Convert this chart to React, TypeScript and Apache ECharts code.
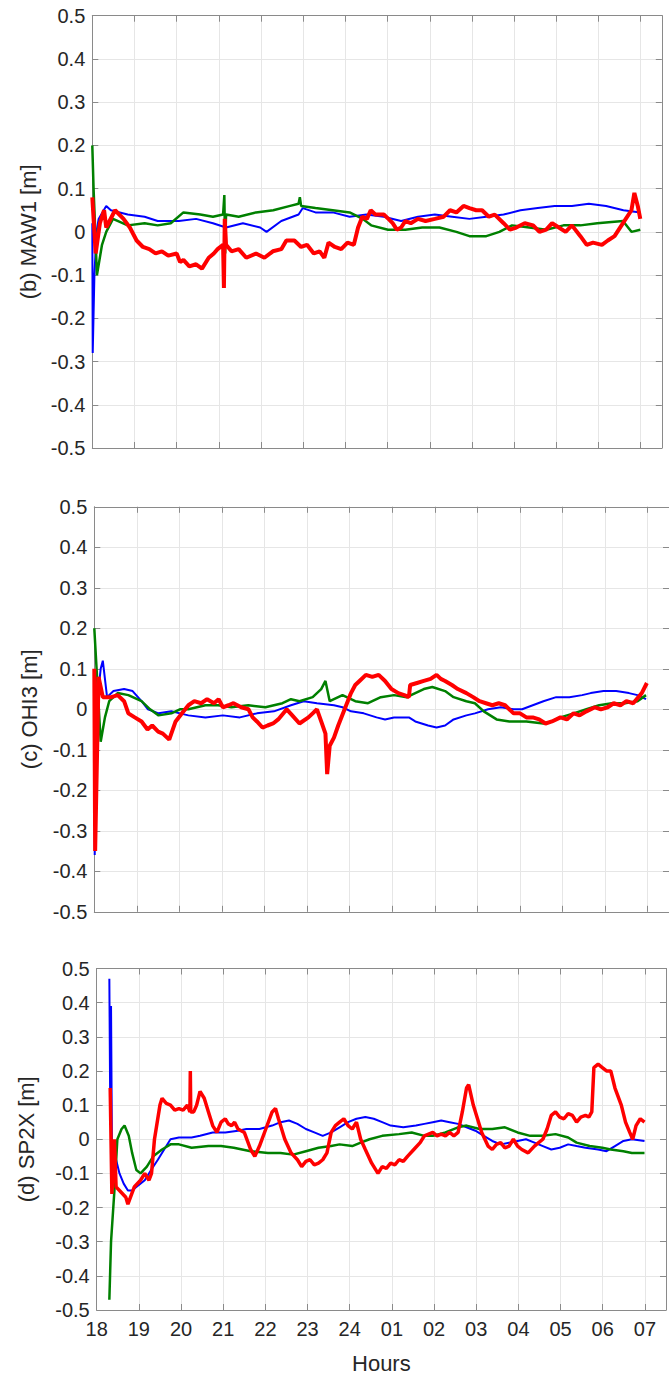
import React, { useEffect, useRef } from "react";
import * as echarts from "echarts";

// x = hours elapsed since 18:00
const hourLabels = ["18", "19", "20", "21", "22", "23", "24", "01", "02", "03", "04", "05", "06", "07"];
const panelNames = ["(b) MAW1 [m]", "(c) OHI3 [m]", "(d) SP2X [m]"];

const maw1Blue: [number, number][] = [
  [0.0, 0.02], [0.01, -0.28], [0.05, -0.1], [0.1, 0.0], [0.15, 0.03], [0.33, 0.06], [0.44, 0.05], [0.84, 0.04],
  [1.24, 0.035], [1.55, 0.025], [2.05, 0.025], [2.46, 0.03], [2.86, 0.02], [3.17, 0.01], [3.57, 0.02], [3.98, 0.01],
  [4.13, 0.0], [4.48, 0.025], [4.89, 0.04], [4.99, 0.055], [5.29, 0.045], [5.7, 0.045], [6.1, 0.035], [6.5, 0.04],
  [6.91, 0.035], [7.32, 0.025], [7.72, 0.035], [8.12, 0.04], [8.53, 0.035], [8.94, 0.03], [9.34, 0.035], [9.75, 0.04],
  [10.15, 0.05], [10.56, 0.055], [10.96, 0.06], [11.37, 0.06], [11.77, 0.065], [12.18, 0.06], [12.59, 0.05], [12.99, 0.045],
];
const maw1Green: [number, number][] = [
  [0.0, 0.2], [0.03, 0.1], [0.11, -0.1], [0.23, -0.03], [0.33, 0.0], [0.49, 0.03], [0.84, 0.015], [1.24, 0.02],
  [1.55, 0.015], [1.86, 0.02], [2.16, 0.045], [2.56, 0.04], [2.86, 0.035], [3.1, 0.04], [3.13, 0.085], [3.15, -0.05],
  [3.17, 0.04], [3.47, 0.035], [3.88, 0.045], [4.29, 0.05], [4.69, 0.06], [4.89, 0.065], [4.92, 0.08], [4.95, 0.06],
  [5.29, 0.055], [5.7, 0.05], [6.1, 0.045], [6.41, 0.03], [6.61, 0.015], [7.01, 0.005], [7.42, 0.005], [7.82, 0.01],
  [8.23, 0.01], [8.63, 0.0], [8.94, -0.01], [9.34, -0.01], [9.65, 0.0], [9.95, 0.015], [10.36, 0.01], [10.76, 0.005],
  [11.17, 0.015], [11.57, 0.015], [11.97, 0.02], [12.58, 0.025], [12.78, 0.0], [12.99, 0.005],
];
const maw1Red: [number, number][] = [
  [0.0, 0.08], [0.08, -0.05], [0.18, 0.02], [0.28, 0.05], [0.33, 0.01], [0.54, 0.05], [0.74, 0.03], [0.89, 0.01],
  [1.05, -0.02], [1.2, -0.035], [1.35, -0.04], [1.5, -0.05], [1.65, -0.045], [1.8, -0.055], [2.0, -0.05], [2.08, -0.07],
  [2.16, -0.065], [2.3, -0.08], [2.46, -0.075], [2.6, -0.085], [2.76, -0.06], [2.88, -0.05], [2.97, -0.04],
  [3.1, -0.03], [3.12, -0.13], [3.14, 0.03], [3.17, -0.03], [3.3, -0.045], [3.47, -0.04], [3.65, -0.06], [3.88, -0.05],
  [4.08, -0.06], [4.28, -0.045], [4.48, -0.04], [4.6, -0.02], [4.79, -0.02], [4.95, -0.035], [5.09, -0.03], [5.25, -0.05],
  [5.39, -0.045], [5.5, -0.06], [5.6, -0.025], [5.75, -0.035], [5.9, -0.04], [6.05, -0.025], [6.2, -0.03], [6.3, 0.01],
  [6.4, 0.035], [6.51, 0.03], [6.6, 0.05], [6.71, 0.04], [6.91, 0.04], [7.02, 0.03], [7.12, 0.02], [7.22, 0.005],
  [7.32, 0.01], [7.42, 0.025], [7.55, 0.02], [7.72, 0.03], [7.9, 0.025], [8.12, 0.03], [8.33, 0.035], [8.48, 0.05],
  [8.63, 0.045], [8.8, 0.06], [8.94, 0.055], [9.1, 0.05], [9.24, 0.05], [9.4, 0.035], [9.54, 0.04], [9.75, 0.02],
  [9.9, 0.005], [10.05, 0.01], [10.25, 0.02], [10.45, 0.015], [10.6, 0.0], [10.76, 0.005], [10.9, 0.02], [11.06, 0.01],
  [11.22, 0.0], [11.37, 0.015], [11.57, -0.01], [11.72, -0.03], [11.87, -0.025], [12.08, -0.03], [12.22, -0.02],
  [12.38, -0.01], [12.58, 0.02], [12.78, 0.05], [12.85, 0.09], [12.93, 0.06], [12.99, 0.03],
];

const ohi3Blue: [number, number][] = [
  [0.0, 0.0], [0.01, -0.36], [0.05, 0.0], [0.15, 0.1], [0.2, 0.12], [0.3, 0.03], [0.45, 0.045], [0.7, 0.05],
  [0.9, 0.045], [1.11, 0.02], [1.26, 0.0], [1.51, -0.01], [1.81, -0.005], [2.01, -0.01], [2.21, -0.015], [2.61, -0.02],
  [3.02, -0.015], [3.42, -0.02], [3.82, -0.01], [4.22, -0.005], [4.62, 0.01], [4.92, 0.02], [5.23, 0.015], [5.63, 0.01],
  [5.83, 0.005], [6.03, -0.005], [6.33, -0.01], [6.63, -0.02], [6.83, -0.025], [7.04, -0.02], [7.39, -0.02], [7.54, -0.03],
  [7.84, -0.04], [8.04, -0.045], [8.24, -0.04], [8.44, -0.025], [8.74, -0.015], [8.94, -0.01], [9.25, 0.0], [9.55, 0.005],
  [9.85, 0.0], [10.05, 0.0], [10.3, 0.01], [10.55, 0.02], [10.85, 0.03], [11.16, 0.03], [11.46, 0.035], [11.66, 0.04],
  [11.96, 0.045], [12.26, 0.045], [12.56, 0.04], [12.76, 0.035], [12.96, 0.025],
];
const ohi3Green: [number, number][] = [
  [0.0, 0.2], [0.15, -0.08], [0.25, -0.02], [0.35, 0.02], [0.55, 0.04], [0.8, 0.035], [1.11, 0.02], [1.31, 0.0],
  [1.51, -0.015], [1.81, -0.01], [2.01, 0.0], [2.21, 0.0], [2.61, 0.01], [2.91, 0.01], [3.22, 0.005], [3.62, 0.01],
  [4.02, 0.005], [4.42, 0.015], [4.62, 0.025], [4.82, 0.02], [5.13, 0.03], [5.33, 0.05], [5.43, 0.07], [5.53, 0.02],
  [5.83, 0.035], [6.13, 0.02], [6.43, 0.015], [6.73, 0.03], [7.04, 0.035], [7.34, 0.03], [7.54, 0.04], [7.74, 0.05],
  [7.94, 0.055], [8.24, 0.045], [8.44, 0.03], [8.74, 0.02], [8.94, 0.015], [9.15, -0.005], [9.45, -0.025], [9.75, -0.03],
  [10.15, -0.03], [10.55, -0.035], [10.75, -0.03], [10.95, -0.02], [11.26, -0.01], [11.56, 0.0], [11.86, 0.01],
  [12.16, 0.015], [12.46, 0.015], [12.76, 0.02], [12.96, 0.035],
];
const ohi3Red: [number, number][] = [
  [0.0, 0.1], [0.02, -0.35], [0.1, 0.08], [0.2, 0.03], [0.4, 0.03], [0.55, 0.035], [0.7, 0.02], [0.8, -0.01],
  [0.95, -0.02], [1.11, -0.03], [1.25, -0.05], [1.36, -0.04], [1.5, -0.055], [1.61, -0.06], [1.76, -0.075], [1.91, -0.03],
  [2.06, -0.01], [2.21, 0.01], [2.35, 0.02], [2.51, 0.015], [2.65, 0.025], [2.81, 0.015], [2.92, 0.025], [3.02, 0.005],
  [3.15, 0.01], [3.27, 0.015], [3.45, 0.005], [3.62, 0.0], [3.72, -0.02], [3.82, -0.03], [3.95, -0.045], [4.07, -0.04],
  [4.2, -0.035], [4.32, -0.025], [4.52, 0.0], [4.65, -0.015], [4.82, -0.035], [5.03, -0.02], [5.13, -0.01], [5.23, 0.0],
  [5.33, -0.03], [5.43, -0.06], [5.47, -0.16], [5.53, -0.09], [5.63, -0.07], [5.73, -0.04], [5.88, 0.0], [6.03, 0.04],
  [6.13, 0.06], [6.23, 0.07], [6.38, 0.085], [6.53, 0.08], [6.68, 0.085], [6.83, 0.07], [6.98, 0.05], [7.14, 0.04],
  [7.28, 0.035], [7.39, 0.03], [7.42, 0.06], [7.58, 0.065], [7.74, 0.07], [7.9, 0.075], [8.04, 0.085], [8.14, 0.075],
  [8.24, 0.07], [8.4, 0.06], [8.54, 0.05], [8.74, 0.04], [8.9, 0.03], [9.05, 0.02], [9.2, 0.015], [9.35, 0.01],
  [9.5, 0.015], [9.65, 0.01], [9.85, -0.01], [10.0, -0.01], [10.15, -0.02], [10.3, -0.02], [10.45, -0.025],
  [10.6, -0.035], [10.75, -0.03], [10.95, -0.02], [11.1, -0.025], [11.26, -0.01], [11.4, -0.015], [11.56, -0.005],
  [11.76, 0.005], [11.9, 0.0], [12.06, 0.005], [12.2, 0.015], [12.36, 0.01], [12.5, 0.02], [12.66, 0.015], [12.86, 0.04],
  [12.98, 0.065],
];

const sp2xBlue: [number, number][] = [
  [0.3, 0.47], [0.32, 0.1], [0.34, 0.39], [0.36, 0.0], [0.44, -0.05], [0.54, -0.1], [0.64, -0.13], [0.74, -0.15],
  [0.84, -0.15], [0.94, -0.14], [1.14, -0.12], [1.29, -0.09], [1.45, -0.06], [1.6, -0.03], [1.75, 0.0], [1.95, 0.005],
  [2.25, 0.005], [2.45, 0.01], [2.75, 0.02], [3.05, 0.02], [3.35, 0.025], [3.55, 0.03], [3.86, 0.03], [4.16, 0.04],
  [4.36, 0.05], [4.56, 0.055], [4.76, 0.045], [4.96, 0.03], [5.16, 0.02], [5.36, 0.01], [5.56, 0.02], [5.76, 0.035],
  [5.96, 0.05], [6.16, 0.06], [6.37, 0.065], [6.57, 0.06], [6.77, 0.05], [6.97, 0.04], [7.27, 0.035], [7.57, 0.04],
  [7.77, 0.045], [7.97, 0.05], [8.17, 0.055], [8.37, 0.05], [8.57, 0.045], [8.77, 0.035], [8.98, 0.025], [9.18, 0.01],
  [9.38, -0.005], [9.58, -0.015], [9.78, -0.01], [9.98, -0.005], [10.18, 0.0], [10.38, -0.01], [10.58, -0.02],
  [10.78, -0.03], [10.98, -0.025], [11.18, -0.015], [11.38, -0.02], [11.59, -0.025], [11.89, -0.03], [12.09, -0.035],
  [12.29, -0.02], [12.49, -0.005], [12.69, 0.0], [12.99, -0.005],
];
const sp2xGreen: [number, number][] = [
  [0.3, -0.47], [0.34, -0.3], [0.42, -0.15], [0.49, 0.0], [0.59, 0.03], [0.66, 0.04], [0.76, 0.01], [0.84, -0.04],
  [0.94, -0.09], [1.04, -0.1], [1.19, -0.08], [1.34, -0.05], [1.55, -0.03], [1.75, -0.015], [1.95, -0.015], [2.25, -0.025],
  [2.65, -0.02], [2.95, -0.02], [3.25, -0.025], [3.65, -0.035], [4.06, -0.04], [4.36, -0.04], [4.66, -0.045], [4.96, -0.035],
  [5.26, -0.025], [5.56, -0.02], [5.76, -0.015], [6.06, -0.02], [6.26, -0.01], [6.47, 0.0], [6.77, 0.01], [7.17, 0.015],
  [7.47, 0.02], [7.77, 0.01], [7.97, 0.01], [8.27, 0.02], [8.57, 0.035], [8.77, 0.04], [9.08, 0.03], [9.38, 0.03],
  [9.68, 0.035], [9.98, 0.02], [10.28, 0.01], [10.58, 0.01], [10.88, 0.015], [11.18, 0.005], [11.38, -0.01], [11.69, -0.02],
  [11.99, -0.025], [12.19, -0.03], [12.49, -0.035], [12.69, -0.04], [12.99, -0.04],
];
const sp2xRed: [number, number][] = [
  [0.32, 0.15], [0.36, -0.16], [0.42, 0.0], [0.46, -0.14], [0.54, -0.15], [0.69, -0.17], [0.74, -0.19], [0.89, -0.14],
  [1.04, -0.12], [1.14, -0.1], [1.24, -0.12], [1.3, -0.1], [1.37, 0.0], [1.5, 0.1], [1.55, 0.12], [1.65, 0.105],
  [1.75, 0.1], [1.85, 0.085], [1.95, 0.09], [2.05, 0.085], [2.15, 0.1], [2.21, 0.08], [2.22, 0.2], [2.23, 0.08],
  [2.3, 0.08], [2.37, 0.1], [2.45, 0.14], [2.55, 0.12], [2.65, 0.08], [2.75, 0.04], [2.85, 0.02], [2.95, 0.05],
  [3.05, 0.06], [3.12, 0.045], [3.2, 0.04], [3.27, 0.05], [3.35, 0.03], [3.5, 0.02], [3.65, -0.03], [3.75, -0.05],
  [3.86, -0.02], [4.01, 0.03], [4.16, 0.08], [4.24, 0.09], [4.31, 0.06], [4.36, 0.04], [4.46, 0.0], [4.61, -0.04],
  [4.76, -0.06], [4.86, -0.08], [4.96, -0.065], [5.06, -0.06], [5.16, -0.075], [5.26, -0.07], [5.36, -0.06],
  [5.46, -0.04], [5.56, 0.02], [5.66, 0.04], [5.76, 0.05], [5.86, 0.06], [5.96, 0.04], [6.06, 0.03], [6.16, 0.05],
  [6.26, 0.0], [6.37, -0.03], [6.52, -0.07], [6.67, -0.1], [6.77, -0.08], [6.87, -0.085], [6.97, -0.07],
  [7.07, -0.075], [7.17, -0.06], [7.27, -0.065], [7.37, -0.05], [7.52, -0.03], [7.67, -0.01], [7.77, 0.01],
  [7.87, 0.015], [7.97, 0.02], [8.07, 0.01], [8.17, 0.015], [8.27, 0.01], [8.37, 0.02], [8.47, 0.01], [8.57, 0.02],
  [8.67, 0.08], [8.77, 0.15], [8.82, 0.16], [8.93, 0.1], [9.03, 0.06], [9.13, 0.02], [9.28, -0.02], [9.38, -0.03],
  [9.48, -0.015], [9.58, -0.01], [9.68, -0.025], [9.78, -0.02], [9.88, 0.0], [9.98, -0.02], [10.08, -0.03],
  [10.23, -0.04], [10.38, -0.02], [10.48, -0.01], [10.58, 0.0], [10.68, 0.03], [10.78, 0.07], [10.88, 0.08],
  [10.98, 0.065], [11.08, 0.06], [11.18, 0.075], [11.28, 0.07], [11.38, 0.05], [11.48, 0.065], [11.59, 0.07],
  [11.67, 0.065], [11.74, 0.08], [11.79, 0.21], [11.89, 0.22], [11.99, 0.21], [12.09, 0.2], [12.19, 0.2],
  [12.29, 0.15], [12.44, 0.1], [12.54, 0.05], [12.64, 0.02], [12.71, 0.0], [12.79, 0.04], [12.89, 0.06], [12.99, 0.05],
];

const panelSeries = [
  [maw1Blue, maw1Green, maw1Red],
  [ohi3Blue, ohi3Green, ohi3Red],
  [sp2xBlue, sp2xGreen, sp2xRed],
];
const seriesColors = ["#0000ff", "#008000", "#ff0000"];

const FONT = "'Liberation Sans', Arial, sans-serif";
const TEXT = "#262626";
const FRAME = "#8a8a8a";
const GRIDC = "#e6e6e6";

export default function App() {
  const ref = useRef<HTMLDivElement>(null);
  useEffect(() => {
    const chart = echarts.init(ref.current!, null, { renderer: "svg" });
    const grids = [
      { left: 92.3, top: 15.7, width: 569.5, height: 432.3 },
      { left: 94.3, top: 506.8, width: 576, height: 405 },
      { left: 96.7, top: 968.5, width: 574, height: 341.5 },
    ];
    const nameGaps = [52, 54, 59];
    const lineWidths = [
      [2, 2.5, 4],
      [2, 2.5, 4],
      [2, 2.5, 3.5],
    ];
    const xAxes: any[] = [];
    const yAxes: any[] = [];
    const series: any[] = [];
    const yFmt = (v: number) => {
      const r = Math.round(v * 10) / 10;
      return r === 0 ? "0" : r.toFixed(1);
    };
    const xFmt = (v: number) => {
      const r = Math.round(v * 1000) / 1000;
      return Number.isInteger(r) && r >= 0 && r < hourLabels.length ? hourLabels[r] : "";
    };
    grids.forEach((g, i) => {
      const isLast = i === grids.length - 1;
      const base = {
        gridIndex: i,
        type: "value",
        min: 0,
        max: 13.5,
        interval: 1,
        axisLine: { show: true, onZero: false, lineStyle: { color: FRAME, width: 1 } },
        axisTick: { show: true, inside: true, length: 6, lineStyle: { color: FRAME } },
      };
      xAxes.push({
        ...base,
        position: "bottom",
        axisLabel: { show: isLast, formatter: xFmt, color: TEXT, fontFamily: FONT, fontSize: 20, margin: 9 },
        splitLine: { show: true, lineStyle: { color: GRIDC, width: 1 } },
        name: isLast ? "Hours" : "",
        nameLocation: "middle",
        nameGap: 42,
        nameTextStyle: { color: TEXT, fontFamily: FONT, fontSize: 22 },
      });
      xAxes.push({
        ...base,
        position: "top",
        axisLabel: { show: false },
        splitLine: { show: false },
      });
      const ybase = {
        gridIndex: i,
        type: "value",
        min: -0.5,
        max: 0.5,
        interval: 0.1,
        axisLine: { show: true, onZero: false, lineStyle: { color: FRAME, width: 1 } },
        axisTick: { show: true, inside: true, length: 6, lineStyle: { color: FRAME } },
      };
      yAxes.push({
        ...ybase,
        position: "left",
        axisLabel: { show: true, formatter: yFmt, color: TEXT, fontFamily: FONT, fontSize: 20, margin: 7 },
        splitLine: { show: true, lineStyle: { color: GRIDC, width: 1 } },
        name: panelNames[i],
        nameLocation: "middle",
        nameRotate: 90,
        nameGap: nameGaps[i],
        nameTextStyle: { color: TEXT, fontFamily: FONT, fontSize: 22 },
      });
      yAxes.push({
        ...ybase,
        position: "right",
        axisLabel: { show: false },
        splitLine: { show: false },
      });
      panelSeries[i].forEach((data, k) => {
        series.push({
          type: "line",
          xAxisIndex: i * 2,
          yAxisIndex: i * 2,
          data,
          showSymbol: false,
          symbol: "none",
          lineStyle: { color: seriesColors[k], width: lineWidths[i][k] },
          itemStyle: { color: seriesColors[k] },
          z: 2 + k,
          silent: true,
        });
      });
    });
    chart.setOption({
      animation: false,
      backgroundColor: "#ffffff",
      grid: grids.map((g) => ({ ...g, containLabel: false })),
      xAxis: xAxes,
      yAxis: yAxes,
      series,
    });
    return () => chart.dispose();
  }, []);
  return (
    <div
      ref={ref}
      style={{ position: "absolute", left: 0, top: 0, width: 669, height: 1378, background: "#fff" }}
    />
  );
}
